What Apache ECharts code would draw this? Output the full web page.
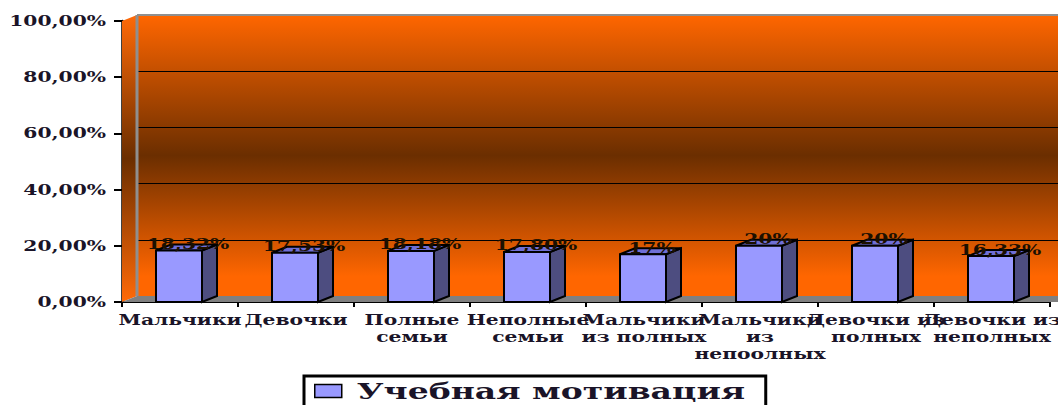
<!DOCTYPE html>
<html><head><meta charset="utf-8"><style>html,body{margin:0;padding:0;background:#fff;overflow:hidden}#c{width:1058px;height:405px}</style>
<script src="https://cdn.jsdelivr.net/npm/echarts@6/dist/echarts.min.js"></script></head><body><div id="c"></div>
<script>
const categories = ["Мальчики","Девочки","Полные\nсемьи","Неполные\nсемьи","Мальчики\nиз полных","Мальчики\nиз\nнепоолных","Девочки из\nполных","Девочки из\nнеполных"];
const values = [18.32,17.53,18.18,17.80,17,20,20,16.33];
const seriesName = "Учебная мотивация";
const dx = 15, dy = -6;
const serif = "'DejaVu Serif'";
const chart = echarts.init(document.getElementById('c'), null, {renderer:'svg'});
const wall = new echarts.graphic.LinearGradient(0,0,0,1,[{offset:0,color:'#ff6600'},{offset:0.5,color:'#6b2e00'},{offset:0.93,color:'#ff6600'},{offset:1,color:'#ff6600'}]);
function fmt(v){return String(v.toFixed(2)).replace(/\.00$/,'').replace('.',',')+'%';}
function renderBar(params, api){
  const i = api.value(0), v = api.value(1);
  const top = api.coord([i,v]), base = api.coord([i,0]);
  const w = 46, xl = top[0]-w/2-1, xr = xl+w;
  const line = {stroke:'#000',lineWidth:2};
  return {type:'group',children:[
    {type:'polygon',shape:{points:[[xr,top[1]],[xr+dx,top[1]+dy],[xr+dx,base[1]+dy],[xr,base[1]]]},style:{fill:'#4d4d80',...line}},
    {type:'polygon',shape:{points:[[xl,top[1]],[xl+dx,top[1]+dy],[xr+dx,top[1]+dy],[xr,top[1]]]},style:{fill:'#6f6fd6',...line}},
    {type:'rect',shape:{x:xl,y:top[1],width:w,height:base[1]-top[1]},style:{fill:'#9999ff',...line}},
    {type:'text',style:{text:fmt(v),x:xr-14,y:top[1]-6.5,align:'center',verticalAlign:'middle',font:"bold 15px "+serif,fill:'#1c1000'},z2:5}
  ]};
}
function renderShell(params, api){
  const a = api.coord([0,100]), b = api.coord([0,0]);
  const x0 = a[0]-api.size([1,0])[0]/2, x1 = 1058;
  return {type:'group',silent:true,children:[
    {type:'polygon',shape:{points:[[x0,a[1]],[x0+dx,a[1]+dy],[x0+dx,b[1]+dy],[x0,b[1]]]},style:{fill:new echarts.graphic.LinearGradient(0,0,0,1,[{offset:0,color:'#ff6a08'},{offset:0.5,color:'#6b2e00'},{offset:1,color:'#ff6a08'}])}},
    {type:'polygon',shape:{points:[[x0,b[1]],[x0+dx,b[1]+dy],[x1,b[1]+dy],[x1,b[1]]]},style:{fill:'#808080'}},
    {type:'line',shape:{x1:x0+dx,y1:a[1]+dy,x2:x0+dx,y2:b[1]+dy},style:{stroke:'#8f8f8f',lineWidth:3}},
    {type:'line',shape:{x1:x0+dx,y1:a[1]+dy,x2:x1,y2:a[1]+dy},style:{stroke:'#8f8f8f',lineWidth:2}}
  ]};
}
chart.setOption({
  animation:false,
  backgroundColor:'#fff',
  grid:[
    {left:137,top:15,width:921,height:281,show:true,backgroundColor:wall,borderWidth:0,z:0},
    {left:122,top:21,width:928,height:281,z:2}
  ],
  xAxis:[
    {gridIndex:0,type:'category',data:categories,show:false},
    {gridIndex:1,type:'category',data:categories,boundaryGap:true,
     axisLine:{lineStyle:{color:'#000',width:2}},axisTick:{show:true,alignWithLabel:false,length:5,lineStyle:{color:'#000',width:2}},
     axisLabel:{interval:0,color:'#1a1428',fontFamily:serif,fontWeight:'bold',fontSize:15,lineHeight:17,margin:9}}
  ],
  yAxis:[
    {gridIndex:0,type:'value',min:0,max:100,interval:20,axisLabel:{show:false},axisLine:{show:false},axisTick:{show:false},splitLine:{lineStyle:{color:'#000',width:1}}},
    {gridIndex:1,type:'value',min:0,max:100,interval:20,splitLine:{show:false},
     axisLine:{show:true,lineStyle:{color:'#000',width:2.5}},axisTick:{show:true,length:8,lineStyle:{color:'#000',width:2}},
     axisLabel:{color:'#1a1428',fontFamily:serif,fontWeight:'bold',fontSize:15,margin:16,formatter:v=>v.toFixed(2).replace('.',',')+'%'}}
  ],
  legend:{data:[seriesName],left:304,top:376,padding:[4,150,10,10],itemGap:0,itemWidth:27,itemHeight:13,borderColor:'#000',borderWidth:3,backgroundColor:'#fff',
    icon:'rect',itemStyle:{color:'#9999ff',borderColor:'#000',borderWidth:1.5},
    textStyle:{fontFamily:serif,fontWeight:'bold',fontSize:22,color:'#1a1428',padding:[0,0,0,10]}},
  series:[
    {type:'custom',name:'shell',xAxisIndex:1,yAxisIndex:1,data:[[0,0]],renderItem:renderShell,clip:false,z:1,silent:true,encode:{x:0,y:1}},
    {type:'custom',name:seriesName,xAxisIndex:1,yAxisIndex:1,data:values.map((v,i)=>[i,v]),renderItem:renderBar,clip:false,z:5,itemStyle:{color:'#9999ff'},encode:{x:0,y:1}}
  ]
});
// The reference's lettering is stretched sideways: widen every text run, keeping it real text.
const widen = 1.35, widenLegend = 1.5;
document.querySelectorAll('#c svg text').forEach(t => {
  const len = t.getComputedTextLength();
  const f = t.textContent === seriesName ? widenLegend : widen;
  if (len > 0) { t.setAttribute('textLength', (len*f).toFixed(1)); t.setAttribute('lengthAdjust','spacingAndGlyphs'); }
});
</script></body></html>
